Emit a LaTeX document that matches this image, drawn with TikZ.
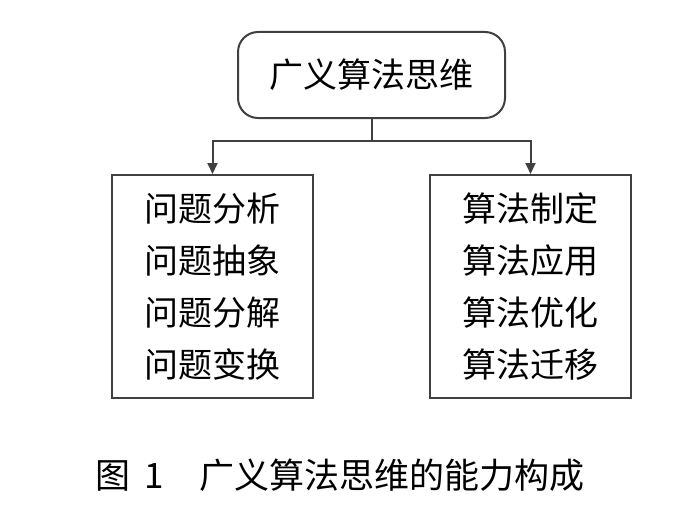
\documentclass[tikz,border=0pt]{standalone}
\usepackage{fontspec}
\newfontfamily\cjk{Noto Sans CJK SC}
\usetikzlibrary{calc, arrows.meta}

\begin{document}
\begin{tikzpicture}[x=1pt, y=-1pt, line width=2pt, draw=black!75,
  box/.style={draw=black!75, minimum width=201pt, minimum height=223pt,
    align=center, inner sep=0pt, font=\cjk\fontsize{34}{52}\selectfont}]
  \useasboundingbox (0,0) rectangle (700,511);
  \node[draw=black!75, rounded corners=20pt, minimum width=267pt, minimum height=86pt,
    inner sep=0pt, font=\cjk\fontsize{34}{40}\selectfont] (top) at (371.5,75) {广义算法思维};
  \node[box] (left) at (212.5,286.5) {问题分析\\问题抽象\\问题分解\\问题变换};
  \node[box] (right) at (530.5,286.5) {算法制定\\算法应用\\算法优化\\算法迁移};
  \coordinate (J) at ($(top.south)+(0,22)$);
  \draw[black!75] (top.south) -- (J);
  \draw[black!75, -{Triangle[length=11pt, width=10pt]}] (J) -| (left.north);
  \draw[black!75, -{Triangle[length=11pt, width=10pt]}] (J) -| (right.north);
  \node[font=\cjk\fontsize{35}{40}\selectfont, inner sep=0pt, anchor=west] (cap) at (94,475)
    {图\hspace{14pt}1\hspace{36pt}广义算法思维的能力构成};
\end{tikzpicture}
\end{document}
